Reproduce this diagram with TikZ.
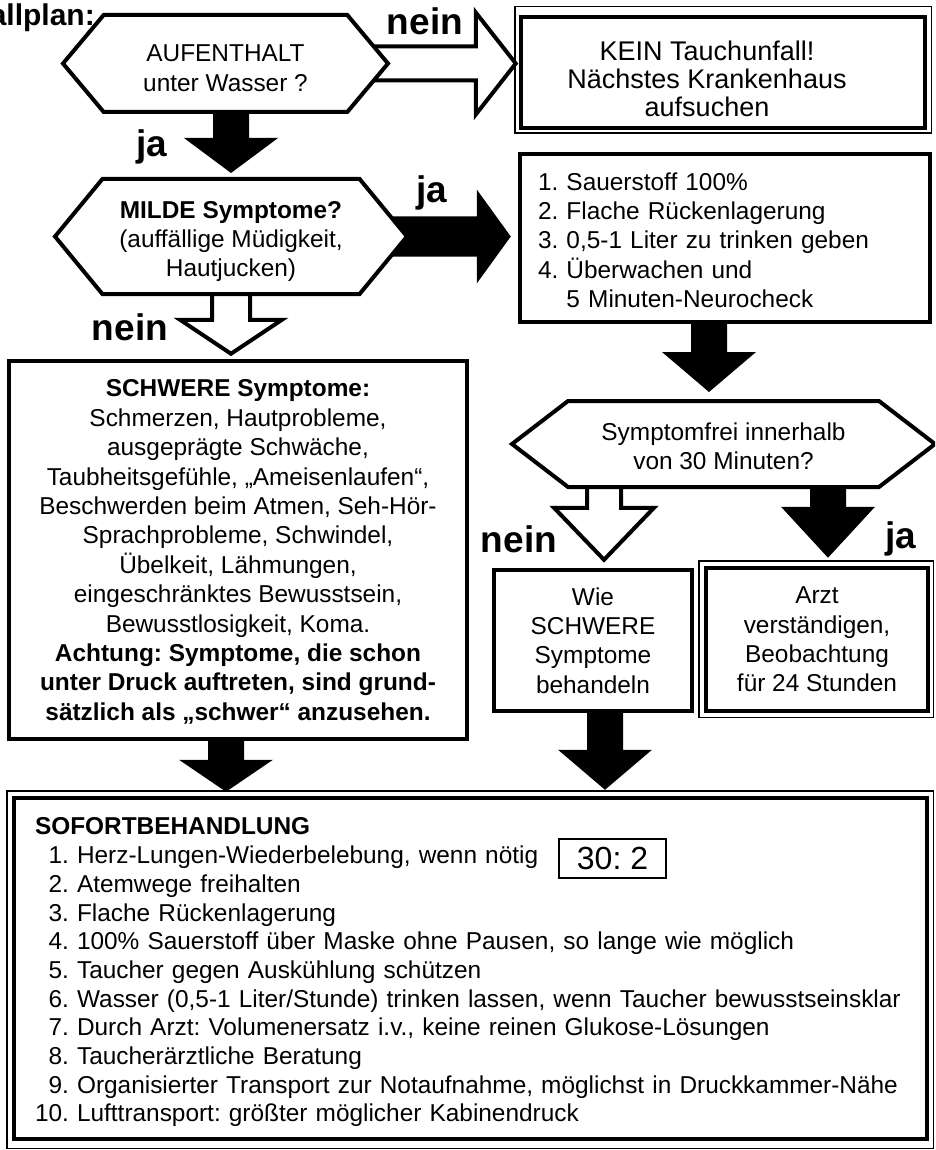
\documentclass[tikz,border=0pt]{standalone}
\usepackage{fontspec}
\setmainfont{Liberation Sans}
\usetikzlibrary{calc,shapes.symbols,backgrounds}

% block arrow: style, start, tip, half shaft, half head, head length
\newcommand{\blockarrow}[6]{%
  \coordinate (back) at ($(#3)!#6!(#2)$);
  \path[#1] ($(#2)!#4!-90:(#3)$) -- ($(back)!#4!90:(#2)$)
    -- ($(back)!#5!90:(#2)$) -- (#3)
    -- ($(back)!#5!-90:(#2)$) -- ($(back)!#4!-90:(#2)$)
    -- ($(#2)!#4!90:(#3)$) -- cycle;}
% taller first line, pushes a text block down a little
\newcommand{\topgap}[1]{\rule{0pt}{#1}}

\begin{document}
\frenchspacing
\begin{tikzpicture}[x=1pt,y=-1pt,font=\fontsize{24.4}{29.4}\selectfont]

    % let's define some key values
    \def\shaft{18pt}
    \def\head{47pt}
    \def\openshaft{17pt}
    \def\openhead{51pt}

    \useasboundingbox (0,0) rectangle (935,1150);
    \clip (0,0) rectangle (935,1150);

    % Styles
    \tikzstyle{hexa}=[signal, signal to=east and west, draw, line width=4pt,
        fill=white, align=center, inner sep=0pt]
    \tikzstyle{plainbox}=[rectangle, draw, line width=4.5pt, fill=white,
        align=center, inner sep=0pt]
    \tikzstyle{outerframe}=[line width=1.5pt]
    \tikzstyle{lbl}=[font=\bfseries\fontsize{37}{37}\selectfont, anchor=base, inner sep=0pt]
    \tikzstyle{fullarrow}=[fill=black]
    \tikzstyle{openarrow}=[draw, fill=white, line width=4pt, line join=miter]

    % title, cut at the left edge
    \node[font=\bfseries\fontsize{30}{30}\selectfont, anchor=base east, inner sep=0pt]
        (titel) at (95,26) {allplan:};

    % first question
    \node[hexa, minimum width=325pt, minimum height=97pt, signal pointer angle=100]
        (aufenthalt) at (225.5,63.5) {\topgap{26pt}AUFENTHALT\\unter Wasser ?};
    \node[plainbox, minimum width=404pt, minimum height=111pt] (kein) at (723,72.5) {};
    \node[align=center, inner sep=0pt, font=\fontsize{27}{28}\selectfont]
        (keintext) at (707,72.5)
        {\topgap{33pt}KEIN Tauchunfall!\\Nächstes Krankenhaus\\aufsuchen};

    % mild symptoms
    \node[hexa, minimum width=352pt, minimum height=115pt, signal pointer angle=101]
        (milde) at (231,236.5)
        {\topgap{27pt}\textbf{MILDE Symptome?}\\(auffällige Müdigkeit,\\Hautjucken)};
    \node[plainbox, minimum width=410pt, minimum height=168pt, text width=374pt,
        inner xsep=18pt, align=left] (sauer) at (725,238)
        {\topgap{22pt}1. Sauerstoff 100\%\\2. Flache Rückenlagerung\\3. 0,5-1 Liter zu trinken geben\\
        4. Überwachen und\\\hphantom{4. }5 Minuten-Neurocheck};

    % severe symptoms
    \node[plainbox, minimum width=458pt, minimum height=378pt] (schwere) at (238,550)
        {\topgap{21pt}\textbf{SCHWERE Symptome:}\\Schmerzen, Hautprobleme,\\ausgeprägte Schwäche,\\
        Taubheitsgefühle, „Ameisenlaufen“,\\Beschwerden beim Atmen, Seh-Hör-\\
        Sprachprobleme, Schwindel,\\Übelkeit, Lähmungen,\\eingeschränktes Bewusstsein,\\
        Bewusstlosigkeit, Koma.\\
        \textbf{Achtung: Symptome, die schon}\\
        \textbf{unter Druck auftreten, sind grund-}\\
        \textbf{sätzlich als „schwer“ anzusehen.}};

    % after 30 minutes
    \node[hexa, minimum width=423pt, minimum height=86pt, signal pointer angle=75]
        (frei) at (723.5,444) {\topgap{22pt}Symptomfrei innerhalb\\von 30 Minuten?};
    \node[plainbox, minimum width=198pt, minimum height=141pt]
        (wie) at (593,640.5) {Wie\\SCHWERE\\Symptome\\behandeln};
    \node[plainbox, minimum width=222pt, minimum height=143pt]
        (arzt) at (817,639.5) {Arzt\\verständigen,\\Beobachtung\\für 24 Stunden};

    % immediate treatment
    \node[plainbox, minimum width=913pt, minimum height=341pt, text width=871pt,
        inner xsep=21pt, align=left, font=\fontsize{24.4}{28.7}\selectfont]
        (sofort) at (470.5,968.5)
        {\topgap{25pt}\textbf{SOFORTBEHANDLUNG}\\
        \hphantom{1}1. Herz-Lungen-Wiederbelebung, wenn nötig\\
        \hphantom{1}2. Atemwege freihalten\\
        \hphantom{1}3. Flache Rückenlagerung\\
        \hphantom{1}4. 100\% Sauerstoff über Maske ohne Pausen, so lange wie möglich\\
        \hphantom{1}5. Taucher gegen Auskühlung schützen\\
        \mbox{\hphantom{1}6. Wasser (0,5-1 Liter/Stunde) trinken lassen, wenn Taucher bewusstseinsklar}\\
        \hphantom{1}7. Durch Arzt: Volumenersatz i.v., keine reinen Glukose-Lösungen\\
        \hphantom{1}8. Taucherärztliche Beratung\\
        \mbox{\hphantom{1}9. Organisierter Transport zur Notaufnahme, möglichst in Druckkammer-Nähe}\\
        10. Lufttransport: größter möglicher Kabinendruck};
    \node[draw, line width=2pt, minimum width=107pt, minimum height=39pt, inner sep=0pt,
        font=\fontsize{32}{32}\selectfont] (cpr) at (612.5,858.5) {30: 2};

    % thin outer frames
    \draw[outerframe] ([shift={(-4pt,8pt)}]kein.north west)
        rectangle ([shift={(4pt,-3pt)}]kein.south east);
    \draw[outerframe] ([shift={(-5pt,5pt)}]arzt.north west)
        rectangle ([shift={(3pt,-4pt)}]arzt.south east);
    \draw[outerframe] ([shift={(-5pt,5pt)}]sofort.north west)
        rectangle ([shift={(4pt,-7pt)}]sofort.south east);

    % answers
    \node[lbl] (neinA) at (425,35) {nein};
    \node[lbl] (jaA) at (152,157) {ja};
    \node[lbl] (jaB) at (432,203) {ja};
    \node[lbl] (neinB) at (130,340) {nein};
    \node[lbl] (neinC) at (519,552) {nein};
    \node[lbl] (jaC) at (901,548) {ja};

    % arrow end points
    \coordinate (a1) at (milde.north |- aufenthalt.center);
    \coordinate (a1t) at ($(milde.north)+(0,-4)$);
    \coordinate (a2t) at ($(aufenthalt.center -| kein.west)+(-3,0)$);
    \coordinate (a3t) at ($(milde.center -| sauer.west)+(-7,0)$);
    \coordinate (a4t) at ($(milde.center |- schwere.north)+(0,-5)$);
    \coordinate (a5) at ($(sauer.center)+(-16,0)$);
    \coordinate (a5t) at ($(sauer.center |- frei.north)+(-16,-7)$);
    \coordinate (a6) at ($(wie.center |- frei.center)+(11,0)$);
    \coordinate (a6t) at ($(wie.north)+(11,-8)$);
    \coordinate (a7) at ($(arzt.center |- frei.center)+(11,0)$);
    \coordinate (a7t) at ($(arzt.north)+(11,-8)$);
    \coordinate (a8) at ($(schwere.center)+(-12,0)$);
    \coordinate (a8t) at ($(schwere.center |- sofort.north)+(-12,-4)$);
    \coordinate (a9) at ($(wie.center)+(12,0)$);
    \coordinate (a9t) at ($(wie.center |- sofort.north)+(12,-6)$);

    \begin{pgfonlayer}{background}
    % ja
    \blockarrow{fullarrow}{a1}{a1t}{\shaft}{\head}{35pt}
    % nein
    \blockarrow{openarrow}{aufenthalt.center}{a2t}{\openshaft}{\openhead}{40pt}
    % ja
    \blockarrow{fullarrow}{milde.center}{a3t}{20pt}{\head}{34pt}
    % nein
    \blockarrow{openarrow}{milde.center}{a4t}{19pt}{\openhead}{34pt}
    % on to the next question
    \blockarrow{fullarrow}{a5}{a5t}{\shaft}{\head}{40pt}
    % nein
    \blockarrow{openarrow}{a6}{a6t}{\openshaft}{50pt}{52pt}
    % ja
    \blockarrow{fullarrow}{a7}{a7t}{\shaft}{\head}{51pt}
    % down to the treatment
    \blockarrow{fullarrow}{a8}{a8t}{\shaft}{\head}{32pt}
    \blockarrow{fullarrow}{a9}{a9t}{\shaft}{\head}{40pt}
    \end{pgfonlayer}

\end{tikzpicture}
\end{document}
